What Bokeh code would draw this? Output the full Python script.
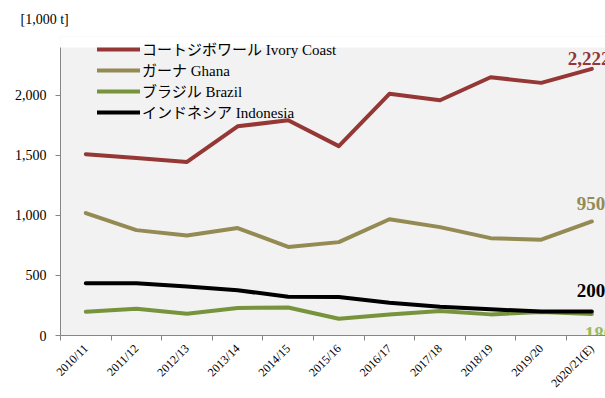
from bokeh.plotting import figure
from bokeh.models import Range1d, FixedTicker, Legend, LegendItem, ColumnDataSource, BoxAnnotation
from bokeh.core.properties import value
from bokeh.embed import file_html
from bokeh.resources import INLINE
import math

categories = ["2010/11", "2011/12", "2012/13", "2013/14", "2014/15", "2015/16",
              "2016/17", "2017/18", "2018/19", "2019/20", "2020/21(E)"]
ivory_coast = [1511, 1478, 1446, 1743, 1793, 1578, 2014, 1960, 2152, 2105, 2222]
ghana = [1020, 878, 833, 895, 738, 778, 969, 903, 811, 798, 950]
brazil = [198, 222, 182, 230, 233, 140, 174, 204, 176, 195, 180]
indonesia = [436, 436, 408, 377, 323, 320, 272, 240, 218, 200, 200]
y_ticks = [0, 500, 1000, 1500, 2000]
y_max = 2400

series_names = ["コートジボワール Ivory Coast", "ガーナ Ghana", "ブラジル Brazil", "インドネシア Indonesia"]
series_values = [ivory_coast, ghana, brazil, indonesia]
line_colors = ["#953735", "#948a54", "#77933c", "#000000"]
end_label_colors = ["#953735", "#948a54", "#9bbb59", "#000000"]
end_labels = ["2,222", "950", "180", "200"]
end_offsets = [(-24, -10), (-15, -18), (-7, 20), (-15, -21)]

SERIF = "'Liberation Serif', 'Times New Roman', serif"
MIXED = "'Liberation Serif', 'Noto Sans CJK JP', serif"

xs = list(range(len(categories)))

# frame extends 11px above the plot area so the legend is not clipped;
# that strip is painted white to look like the page.
frame_top_extra = y_max * 11 / 289.0

p = figure(width=605, height=398, output_backend="svg", toolbar_location=None,
           x_range=Range1d(-0.5, 10.27), y_range=Range1d(0, y_max + frame_top_extra),
           min_border_left=60, min_border_right=0, min_border_top=36, min_border_bottom=62,
           title="[1,000 t]")
p.background_fill_color = "#f2f2f2"
p.border_fill_color = "white"
p.outline_line_color = None
p.xgrid.visible = False
p.ygrid.visible = False

p.add_layout(BoxAnnotation(bottom=y_max, fill_color="white", fill_alpha=1.0,
                           line_color=None, level="underlay"))

p.title.text_font = SERIF
p.title.text_font_size = "14px"
p.title.text_font_style = "normal"
p.title.text_color = "black"
p.title.align = "left"
p.title.offset = -40
p.title.standoff = 19

renderers = []
for vals, col in zip(series_values, line_colors):
    r = p.line(xs, vals, line_color=col, line_width=4, line_join="round", line_cap="round")
    renderers.append(r)

for vals, lab, col, (dx, dy) in zip(series_values, end_labels, end_label_colors, end_offsets):
    src = ColumnDataSource(dict(x=[xs[-1]], y=[vals[-1]], t=[lab]))
    p.text(x="x", y="y", text="t", source=src, text_color=col, text_font=value(SERIF),
           text_font_size="19px", text_font_style="bold", text_align="left",
           text_baseline="alphabetic", x_offset=dx, y_offset=dy)

# axes
xa = p.xaxis[0]
xa.ticker = FixedTicker(ticks=xs, minor_ticks=[i - 0.5 for i in range(len(categories) + 1)])
xa.major_label_overrides = {i: c for i, c in enumerate(categories)}
xa.major_label_orientation = math.pi / 4
xa.major_tick_line_color = None
xa.minor_tick_line_color = "#868686"
xa.minor_tick_out = 5
xa.minor_tick_in = 0
xa.axis_line_color = "#868686"
xa.major_label_text_font = SERIF
xa.major_label_text_font_size = "12px"
xa.major_label_text_color = "black"
xa.major_label_standoff = 5

ya = p.yaxis[0]
ya.ticker = FixedTicker(ticks=y_ticks)
ya.major_label_overrides = {t: f"{t:,}" for t in y_ticks}
ya.bounds = (0, y_max)
ya.minor_tick_line_color = None
ya.major_tick_out = 5
ya.major_tick_in = 0
ya.major_tick_line_color = "#868686"
ya.axis_line_color = "#868686"
ya.major_label_text_font = SERIF
ya.major_label_text_font_size = "14px"
ya.major_label_text_color = "black"
ya.major_label_standoff = 9

legend = Legend(items=[LegendItem(label=n, renderers=[r]) for n, r in zip(series_names, renderers)],
                location=(37, 213), orientation="vertical")
legend.label_text_font = MIXED
legend.label_text_font_size = "15px"
legend.label_text_color = "black"
legend.glyph_width = 43
legend.glyph_height = 20
legend.label_height = 20
legend.label_standoff = 2
legend.spacing = 0
legend.padding = 0
legend.margin = 0
legend.background_fill_alpha = 0
legend.border_line_color = None
p.add_layout(legend, "center")

open("out.html", "w").write(file_html(p, INLINE))
